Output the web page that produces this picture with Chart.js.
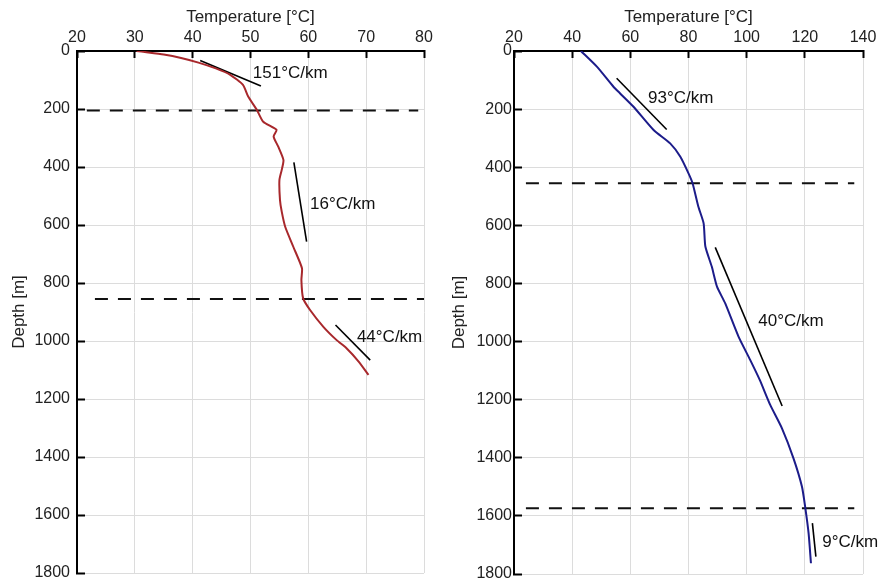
<!DOCTYPE html>
<html>
<head>
<meta charset="utf-8">
<script src="https://cdn.jsdelivr.net/npm/chart.js@4.4.0/dist/chart.umd.min.js"></script>
<style>
  body { margin: 0; background: #fff; }
  #wrap { position: relative; width: 881px; height: 584px; }
  canvas { position: absolute; top: 0; }
</style>
</head>
<body>
<div id="wrap">
  <canvas id="left" width="440" height="584" style="left:0"></canvas>
  <canvas id="right" width="441" height="584" style="left:440px"></canvas>
</div>
<script>
// temperature profiles (temp in °C, depth in m)
const leftTemp  = [30.3, 32, 35, 38, 41, 44, 46.5, 48.7, 49.6, 51.1, 52.2, 54.5, 54.0, 54.8, 55.7, 55.4, 55.0, 55.1, 55.4, 56, 57.4, 58.9, 58.8, 59.1, 60.3, 62.6, 64.9, 66.6, 68.7, 70.4];
const leftDepth = [0, 4, 12, 24, 40, 60, 82, 117, 157, 203, 244, 272, 295, 330, 376, 410, 445, 514, 554, 606, 675, 749, 790, 853, 893, 951, 997, 1025, 1071, 1117];

const rightTemp  = [43, 48.5, 54.2, 56.5, 61.1, 68, 73.7, 77.2, 80, 81.4, 83.4, 85.2, 85.8, 88, 89.8, 92.6, 97.2, 101.2, 104.5, 108.1, 112.1, 116.1, 119, 120.1, 121.3, 122.1];
const rightDepth = [0, 54, 123, 146, 192, 272, 318, 364, 421, 455, 536, 593, 673, 742, 811, 868, 983, 1063, 1132, 1218, 1298, 1402, 1499, 1568, 1660, 1763];

// gradient guide lines: [start, end]
const leftGradT  = [[41.3, 51.8], [57.5, 59.7], [64.7, 70.7]];
const leftGradD  = [[33, 121], [384, 657], [945, 1066]];
const leftGradLabels = ['151°C/km', '16°C/km', '44°C/km'];
const leftLabelAt = [[50.4, 76], [60.3, 528], [68.4, 986]];

const rightGradT = [[55.3, 72.5], [89.2, 112.2], [122.6, 123.8]];
const rightGradD = [[94, 270], [676, 1222], [1625, 1740]];
const rightGradLabels = ['93°C/km', '40°C/km', '9°C/km'];
const rightLabelAt = [[66.1, 162], [104, 932], [126, 1690]];

// dashed boundaries: depth and temperature span
const leftDashDepth = [205, 855];
const leftDashSpan = [[21.7, 79], [23.1, 80]];
const rightDashDepth = [455, 1574];
const rightDashSpan = [[24.1, 137], [24.1, 137]];

const leftTicks = [20, 30, 40, 50, 60, 70, 80];
const rightTicks = [20, 40, 60, 80, 100, 120, 140];
const depthTicks = [0, 200, 400, 600, 800, 1000, 1200, 1400, 1600, 1800];

const FONT = '"Liberation Sans", Arial, sans-serif';

const gradText = {
  id: 'gradText',
  afterDatasetsDraw(chart, args, opts) {
    const { ctx, scales: { x, y } } = chart;
    ctx.save();
    ctx.font = '17px ' + FONT;
    ctx.fillStyle = '#111';
    ctx.textBaseline = 'middle';
    ctx.textAlign = 'left';
    opts.labels.forEach((txt, i) => {
      ctx.fillText(txt, x.getPixelForValue(opts.at[i][0]), y.getPixelForValue(opts.at[i][1]));
    });
    ctx.restore();
  }
};

// drop the label overhang padding so the plot area is set by layout padding only
function noPad(s) {
  s.paddingLeft = 0; s.paddingRight = 0; s.paddingTop = 0; s.paddingBottom = 0;
}

function makeChart(id, p) {
  const datasets = [];
  datasets.push({
    data: p.temp.map((t, i) => ({ x: t, y: p.depth[i] })),
    borderColor: p.color,
    borderWidth: 2,
    showLine: true,
    pointRadius: 0,
    tension: 0.2
  });
  p.gradT.forEach((t, i) => {
    datasets.push({
      data: [{ x: t[0], y: p.gradD[i][0] }, { x: t[1], y: p.gradD[i][1] }],
      borderColor: '#000',
      borderWidth: 1.6,
      showLine: true,
      pointRadius: 0
    });
  });
  p.dashDepth.forEach((d, i) => {
    datasets.push({
      data: [{ x: p.dashSpan[i][0], y: d }, { x: p.dashSpan[i][1], y: d }],
      borderColor: '#111',
      borderWidth: 2,
      borderDash: [13, 10],
      showLine: true,
      pointRadius: 0
    });
  });

  return new Chart(document.getElementById(id), {
    type: 'scatter',
    data: { datasets },
    plugins: [gradText],
    options: {
      responsive: false,
      animation: false,
      layout: { padding: { left: 0, right: p.padRight, top: 0, bottom: p.padBottom } },
      plugins: {
        legend: { display: false },
        tooltip: { enabled: false },
        gradText: { labels: p.labels, at: p.labelAt }
      },
      scales: {
        x: {
          type: 'linear',
          position: 'top',
          min: p.xTicks[0],
          max: p.xTicks[p.xTicks.length - 1],
          afterBuildTicks: s => { s.ticks = p.xTicks.map(v => ({ value: v })); },
          afterFit: s => { s.height = 51; noPad(s); },
          grid: { color: '#dcdcdc', lineWidth: 1, tickColor: '#000', tickWidth: 2, tickLength: -7 },
          border: { display: true, color: '#000', width: 2 },
          ticks: { color: '#222', font: { size: 16, family: FONT }, padding: 11, maxRotation: 0, callback: v => String(v) },
          title: { display: true, text: 'Temperature [°C]', color: '#222', font: { size: 17, family: FONT }, padding: { top: 7, bottom: 0 } }
        },
        y: {
          type: 'linear',
          reverse: true,
          min: 0,
          max: 1800,
          afterBuildTicks: s => { s.ticks = depthTicks.map(v => ({ value: v })); },
          afterFit: s => { s.width = p.yWidth; noPad(s); },
          grid: { color: '#dcdcdc', lineWidth: 1, tickColor: '#000', tickWidth: 2, tickLength: -8 },
          border: { display: true, color: '#000', width: 2 },
          ticks: { color: '#222', font: { size: 16, family: FONT }, padding: p.yPad, callback: v => String(v) },
          title: { display: true, text: 'Depth [m]', color: '#222', font: { size: 17, family: FONT }, padding: { top: 9, bottom: 0 } }
        }
      }
    }
  });
}

makeChart('left', {
  temp: leftTemp, depth: leftDepth, color: '#a8282c',
  gradT: leftGradT, gradD: leftGradD, labels: leftGradLabels, labelAt: leftLabelAt,
  dashDepth: leftDashDepth, dashSpan: leftDashSpan,
  xTicks: leftTicks, yWidth: 77, yPad: 15, padRight: 16, padBottom: 11
});

makeChart('right', {
  temp: rightTemp, depth: rightDepth, color: '#1c1c8a',
  gradT: rightGradT, gradD: rightGradD, labels: rightGradLabels, labelAt: rightLabelAt,
  dashDepth: rightDashDepth, dashSpan: rightDashSpan,
  xTicks: rightTicks, yWidth: 74, yPad: 10, padRight: 18, padBottom: 10
});
</script>
</body>
</html>
